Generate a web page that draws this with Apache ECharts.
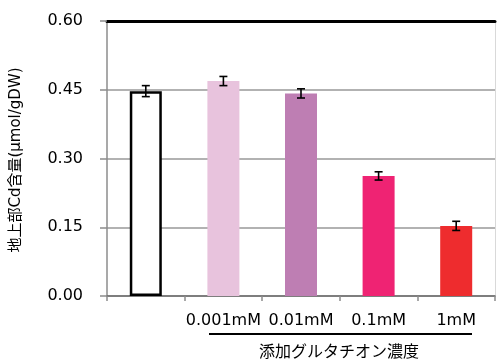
<!DOCTYPE html>
<html><head><meta charset="utf-8">
<script src="https://cdn.jsdelivr.net/npm/echarts@6/dist/echarts.min.js"></script>
<style>html,body{margin:0;padding:0;background:#fff}#c{width:497px;height:360px}</style>
</head><body><div id="c"></div>
<script>
var categories = ['', '0.001mM', '0.01mM', '0.1mM', '1mM'];
var values = [0.447, 0.469, 0.442, 0.262, 0.153];
var errors = [0.012, 0.010, 0.010, 0.009, 0.010];
var colors = ['#ffffff', '#E8C3DD', '#BE7EB3', '#EF2373', '#EE2C2E'];
var yTicks = [0, 0.15, 0.30, 0.45, 0.60];
var yTitle = '地上部Cd含量(μmol/gDW)';
var xTitle = '添加グルタチオン濃度';

var font = "'DejaVu Sans', 'Noto Sans CJK JP', sans-serif";
var chart = echarts.init(document.getElementById('c'), null, {renderer: 'canvas'});
var barData = values.map(function (v, i) {
  return {
    value: v,
    itemStyle: i === 0 ? {color: '#fff', borderColor: '#000', borderWidth: 2.5} : {color: colors[i]}
  };
});
var errData = values.map(function (v, i) { return [i, v - errors[i], v + errors[i]]; });

chart.setOption({
  animation: false,
  grid: {left: 107, right: 2, top: 21, bottom: 64, containLabel: false},
  xAxis: [{
    type: 'category', data: categories, position: 'bottom',
    axisLine: {show: true, onZero: false, lineStyle: {color: '#6e6e6e', width: 1.5}},
    axisTick: {show: true, length: 5, lineStyle: {color: '#8c8c8c', width: 1.5}},
    axisLabel: {color: '#000', fontSize: 16, fontFamily: font, margin: 17, interval: 0}
  }, {
    type: 'category', data: categories, position: 'top',
    axisLine: {show: true, onZero: false, lineStyle: {color: '#000', width: 3}},
    axisTick: {show: false}, axisLabel: {show: false}
  }],
  yAxis: [{
    type: 'value', min: yTicks[0], max: yTicks[yTicks.length - 1], interval: 0.15,
    axisLine: {show: true, onZero: false, lineStyle: {color: '#8c8c8c', width: 1.5}},
    axisTick: {show: true, length: 7, lineStyle: {color: '#8c8c8c', width: 1.5}},
    axisLabel: {color: '#000', fontSize: 16, fontFamily: font, margin: 24,
      formatter: function (v) { return v.toFixed(2); }},
    splitLine: {show: true, lineStyle: {color: '#999', width: 1.5}}
  }, {
    type: 'value', min: 0, max: 0.6, position: 'right',
    axisLine: {show: true, onZero: false, lineStyle: {color: '#d9d9d9', width: 1}},
    axisTick: {show: false}, axisLabel: {show: false}, splitLine: {show: false}
  }],
  series: [{
    type: 'bar', data: barData, barWidth: 32, xAxisIndex: 0, yAxisIndex: 0, z: 3
  }, {
    type: 'custom', xAxisIndex: 0, yAxisIndex: 0, z: 5,
    data: errData,
    renderItem: function (params, api) {
      var x = api.value(0);
      var lo = api.coord([x, api.value(1)]);
      var hi = api.coord([x, api.value(2)]);
      var hw = 4;
      var st = {stroke: '#000', lineWidth: 1.6};
      return {type: 'group', children: [
        {type: 'line', shape: {x1: lo[0], y1: lo[1], x2: hi[0], y2: hi[1]}, style: st},
        {type: 'line', shape: {x1: lo[0] - hw, y1: lo[1], x2: lo[0] + hw, y2: lo[1]}, style: st},
        {type: 'line', shape: {x1: hi[0] - hw, y1: hi[1], x2: hi[0] + hw, y2: hi[1]}, style: st}
      ]};
    }
  }],
  graphic: [
    {type: 'line', shape: {x1: 209, y1: 334, x2: 472, y2: 334}, style: {stroke: '#000', lineWidth: 2}},
    {type: 'text', x: 339, y: 353, style: {text: xTitle, fill: '#000', font: '16px ' + font, textAlign: 'center', textVerticalAlign: 'middle'}},
    {type: 'text', x: 16, y: 160, rotation: Math.PI / 2, style: {text: yTitle, fill: '#000', font: '15px ' + font, textAlign: 'center', textVerticalAlign: 'middle'}}
  ]
});
</script></body></html>
